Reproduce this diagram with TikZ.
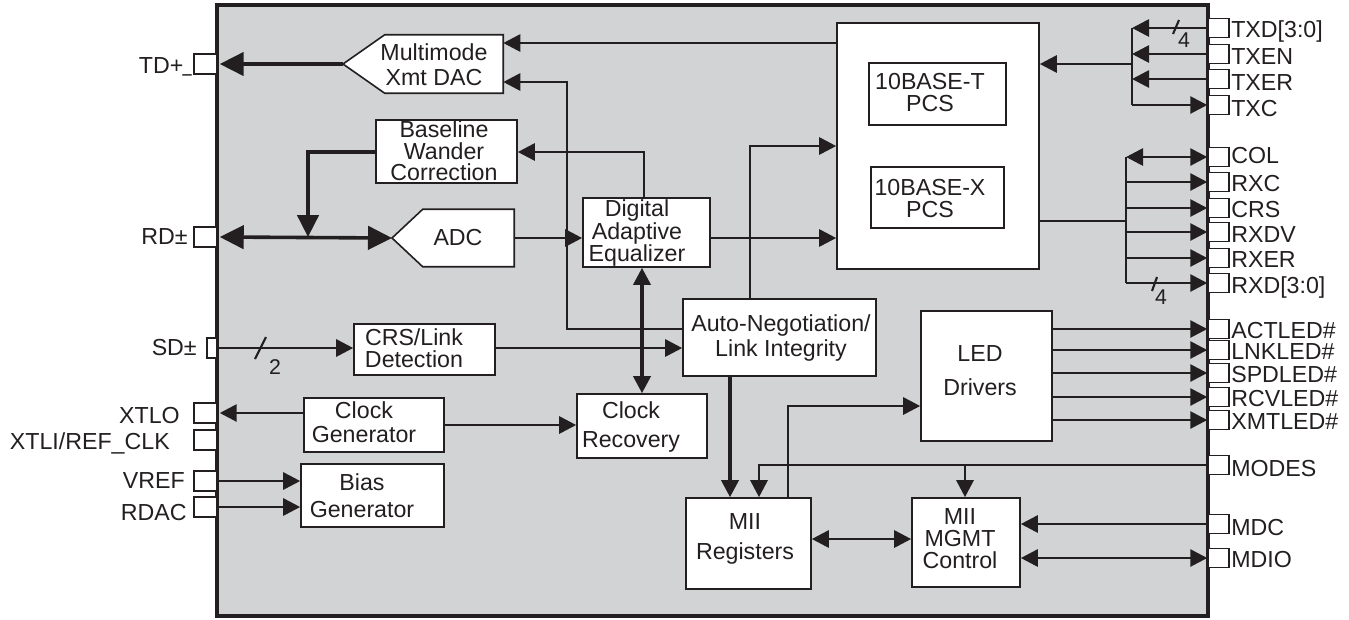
\documentclass[tikz,border=0pt]{standalone}
\usepackage{fontspec}
\setmainfont{Liberation Sans}
\usepackage{graphicx}
\usetikzlibrary{arrows.meta}
\definecolor{lc}{RGB}{35,31,32}
\definecolor{chipgray}{RGB}{209,211,212}
\tikzset{
  ntip/.tip={Triangle[length=12.75pt,width=12.75pt]},
  btip/.tip={Triangle[length=18pt,width=17.5pt]},
  mtip/.tip={Triangle[length=16.5pt,width=16pt]},
  blk/.style={draw=lc, fill=white, line width=1.2pt, inner sep=0pt},
  hole/.style={inner sep=0pt},
  txt/.style={inner sep=0pt, align=center, text=lc, font=\fontsize{17.4}{#1}\selectfont},
  pinbox/.style={draw=lc, fill=white, line width=1.1pt, inner sep=0pt},
  lpin/.style={pinbox, minimum width=17.25pt, minimum height=15pt},
  rpin/.style={pinbox, minimum width=15.75pt, minimum height=14.5pt},
  plabel/.style={inner sep=0pt, text=lc, font=\fontsize{17.4}{20}\selectfont, text height=12.46pt, text depth=0pt},
  wire/.style={draw=lc, line width=2.1pt},
  thinwire/.style={draw=lc, line width=1.3pt},
  thkwire/.style={draw=lc, line width=2.7pt},
  conn/.style={wire, arrows={-ntip}},
  connb/.style={wire, arrows={ntip-ntip}},
  slashmark/.style={draw=lc, line width=1.6pt},
  bus/.style={inner sep=0pt, text=lc, font=\fontsize{16}{18}\selectfont}
}
\begin{document}
\begin{tikzpicture}[x=0.75pt,y=-0.75pt]
\useasboundingbox (0,0) rectangle (1349,619);
% chip body
\node[draw=lc, fill=chipgray, line width=2.5pt, minimum width=743.25pt, minimum height=458.25pt, inner sep=0pt] (chip) at (712.5,310.5) {};

% blocks
\node[hole, minimum width=88.5pt, minimum height=43.5pt] (dac) at (444,64) {};
\coordinate (dactip) at (343,64);
\draw[blk] (dactip) -- (dac.north west) -- (dac.north east) -- (dac.south east) -- (dac.south west) -- cycle;
\node[txt=18.75pt] (dactxt) at (434,65) {Multimode\\Xmt DAC};

\node[hole, minimum width=68.25pt, minimum height=42.75pt] (adc) at (468.5,238) {};
\coordinate (adctip) at (392,238);
\draw[blk] (adctip) -- (adc.north west) -- (adc.north east) -- (adc.south east) -- (adc.south west) -- cycle;
\node[txt=20pt] (adctxt) at (458,238) {ADC};

\node[blk, minimum width=105.75pt, minimum height=47.25pt] (bwc) at (446.5,151.5) {};
\node[txt=16pt] (bwctxt) at (444,151) {Baseline\\Wander\\Correction};

\node[blk, minimum width=95.25pt, minimum height=51.75pt] (dae) at (646.5,232.5) {};
\node[txt=16pt] (daetxt) at (637,233) {Digital\\Adaptive\\Equalizer};

\node[blk, minimum width=151.5pt, minimum height=184.5pt] (pcs) at (938,146) {};
\node[blk, minimum width=102.75pt, minimum height=46.5pt] (pcst) at (937.5,94) {};
\node[txt=16.5pt] (pcsttxt) at (930,93) {10BASE-T\\PCS};
\node[blk, minimum width=99.75pt, minimum height=45.75pt] (pcsx) at (937.5,197.5) {};
\node[txt=16.5pt] (pcsxtxt) at (930,198.5) {10BASE-X\\PCS};

\node[blk, minimum width=144.75pt, minimum height=57.75pt] (an) at (779.5,337.5) {};
\node[txt=18.75pt] (antxt) at (781,338) {Auto-Negotiation/\\Link Integrity};

\node[blk, minimum width=105.75pt, minimum height=38.25pt] (crs) at (424.5,349.5) {};
\node[txt=16.5pt] (crstxt) at (414,348) {CRS/Link\\Detection};

\node[blk, minimum width=105pt, minimum height=40.5pt] (cg) at (374,425) {};
\node[txt=18pt] (cgtxt) at (364,422) {Clock\\Generator};

\node[blk, minimum width=97.5pt, minimum height=48pt] (cr) at (642,426) {};
\node[txt=21.75pt] (crtxt) at (631,427) {Clock\\Recovery};

\node[blk, minimum width=107.25pt, minimum height=47.25pt] (bias) at (372.5,495.5) {};
\node[txt=20.25pt] (biastxt) at (362,496) {Bias\\Generator};

\node[blk, minimum width=93.75pt, minimum height=68.25pt] (mii) at (748.5,543.5) {};
\node[txt=22.5pt] (miitxt) at (745,539) {MII\\Registers};

\node[blk, minimum width=81pt, minimum height=66.75pt] (mgmt) at (966,542.5) {};
\node[txt=16.5pt] (mgmttxt) at (960,539) {MII\\MGMT\\Control};

\node[blk, minimum width=98.25pt, minimum height=97.5pt] (led) at (986.5,376) {};
\node[txt=25.5pt] (ledtxt) at (980,371) {LED\\Drivers};

% left pins
\node[lpin] (tdpin) at (205.5,64) {};
\node[lpin] (rdpin) at (205.5,237) {};
\node[pinbox, minimum width=7.5pt, minimum height=15pt] (sdpin) at (212,348) {};
\node[lpin] (xtlopin) at (205.5,413) {};
\node[lpin] (xtlipin) at (205.5,440) {};
\node[lpin] (vrefpin) at (205.5,481) {};
\node[lpin] (rdacpin) at (205.5,507) {};

\node[plabel, anchor=east] (tdlab) at (192,65) {TD+\kern-0.5pt\raisebox{1.5pt}{\scalebox{0.7}[1]{\_}}};
\node[plabel, anchor=east] (rdlab) at (188,236) {RD±};
\node[plabel, anchor=east] (sdlab) at (197,347) {SD±};
\node[plabel, anchor=east] (xtlolab) at (180,415) {XTLO};
\node[plabel, anchor=east] (xtlilab) at (170,441) {XTLI/REF\_CLK};
\node[plabel, anchor=east] (vreflab) at (185,480) {VREF};
\node[plabel, anchor=east] (rdaclab) at (187,512) {RDAC};

% right pins
\foreach \n/\y in {txd/28, txen/54, txer/79, txc/105, col/157, rxc/182, crs/208, rxdv/232, rxer/258, rxd/283, act/329, lnk/350, spd/373, rcv/397, xmt/420, modes/465, mdc/524, mdio/558}
  \node[rpin] (\n pin) at (1218.5,\y) {};
\foreach \n/\y/\t in {txd/29/{TXD[3:0]}, txen/56/TXEN, txer/82/TXER, txc/108/TXC, col/155/COL, rxc/183/RXC, crs/209/CRS, rxdv/234/RXDV, rxer/259/RXER, rxd/285/{RXD[3:0]}, act/330/ACTLED\#, lnk/351/LNKLED\#, spd/374/SPDLED\#, rcv/398/RCVLED\#, xmt/421/XMTLED\#, modes/468/MODES, mdc/527/MDC, mdio/559/MDIO}
  \node[plabel, anchor=west] (\n lab) at (1231,\y) {\t};

% left side connectors
\draw[thkwire, arrows={-btip}] (dactip) -- ([xshift=1.5pt]tdpin.east);
\draw[thkwire, arrows={btip-btip}] ([xshift=1.5pt]rdpin.east) -- (adctip);
\coordinate (rdj) at (308,237);
\draw[thkwire, arrows={-mtip}] (bwc.west |- 0,152) -| (rdj);
\draw[conn] (sdpin.east) -- (crs.west |- sdpin.east);
\draw[slashmark] (255,359) -- (266,337);
\node[bus] (sdbus) at (275,367) {2};
\draw[conn] (cg.west |- 0,413) -- ([xshift=1.5pt]xtlopin.east);
\draw[conn] (vrefpin.east) -- (bias.west |- vrefpin.east);
\draw[conn] (rdacpin.east) -- (bias.west |- rdacpin.east);

% internal connectors
\draw[conn] (pcs.west |- 0,43) -- (dac.east |- 0,43);
\draw[conn] (an.west |- 0,329) -- (567,329) -- (567,82) -- (dac.east |- 0,82);
\draw[conn] (adc.east |- 0,238) -- (dae.west |- 0,238);
\draw[conn] (dae.north -| 644,0) |- (bwc.east |- 0,152);
\draw[conn] (dae.east |- 0,238) -- (pcs.west |- 0,238);
\draw[conn] (an.north -| 750,0) |- (pcs.west |- 0,146);
\draw[thkwire, arrows={ntip-ntip}] (dae.south -| 642,0) -- (cr.north -| 642,0);
\draw[conn] (crs.east |- 0,348) -- (an.west |- 0,348);
\draw[conn] (cg.east |- 0,425) -- (cr.west |- 0,425);
\draw[thkwire, arrows={-ntip}] (an.south -| 730,0) -- (mii.north -| 730,0);
\draw[conn] (modespin.west) -| (mii.north -| 759,0);
\coordinate (modesj) at (965,465);
\draw[conn] (modesj) -- (mgmt.north -| modesj);
\draw[conn] (mii.north -| 788,0) |- (led.west |- 0,406);
\draw[connb] (mii.east |- 0,539) -- (mgmt.west |- 0,539);
\draw[conn] (mdcpin.west) -- (mgmt.east |- mdcpin.west);
\draw[connb] (mdiopin.west) -- (mgmt.east |- mdiopin.west);
\foreach \p in {act,lnk,spd,rcv,xmt}
  \draw[conn] (led.east |- \p pin.west) -- (\p pin.west);

% transmit interface
\coordinate (txtop) at (1132,28);
\coordinate (txbot) at (1132,105);
\coordinate (txj) at (1132,64);
\draw[wire] (txtop) -- (txbot);
\draw[conn] (txj) -- (pcs.east |- txj);
\draw[conn] (txdpin.west) -- (txtop);
\draw[conn] (txenpin.west) -- (txtop |- txenpin.west);
\draw[conn] (txerpin.west) -- (txtop |- txerpin.west);
\draw[conn] (txbot) -- (txcpin.west);
\draw[slashmark] (1173,34) -- (1179,20);
\node[bus] (txbus) at (1184,40) {4};

% receive interface
\coordinate (rxj) at (1126,221);
\coordinate (rxtop) at (1126,157);
\coordinate (rxbot) at (1126,283);
\draw[thinwire] (pcs.east |- rxj) -- (rxj);
\draw[wire] (rxtop) -- (rxbot);
\draw[connb] (rxtop) -- (colpin.west);
\foreach \p in {rxc,crs,rxdv,rxer}
  \draw[conn] (rxtop |- \p pin.west) -- (\p pin.west);
\draw[conn] (rxbot) -- (rxdpin.west);
\draw[slashmark] (1152,291) -- (1157,277);
\node[bus] (rxbus) at (1161,297) {4};
\end{tikzpicture}
\end{document}
